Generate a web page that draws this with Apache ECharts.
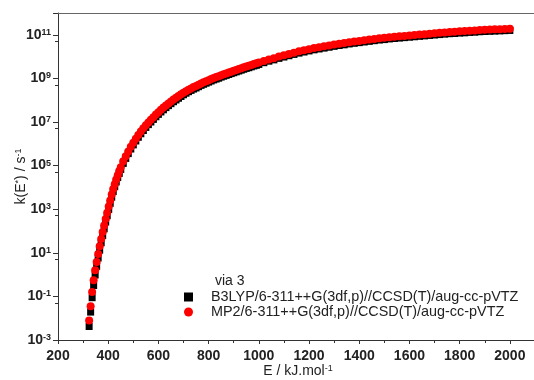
<!DOCTYPE html>
<html>
<head>
<meta charset="utf-8">
<script src="https://cdn.jsdelivr.net/npm/echarts@6/dist/echarts.min.js"></script>
<style>
  html, body { margin: 0; padding: 0; background: #fff; overflow: hidden; }
  #main { width: 534px; height: 380px; }
</style>
</head>
<body>
<div id="main"></div>
<script>
var chartDom = document.getElementById('main');
var myChart = echarts.init(chartDom);

// energies, kJ/mol
var energy = [
  324, 330, 336, 342, 348, 354, 360, 366, 372, 378, 384, 390, 396, 402, 408, 414, 420, 426, 432, 438, 444, 450,
  460, 470, 480, 490, 500, 510, 520, 530, 540, 550, 560, 570, 580, 590, 600,
  610, 620, 630, 640, 650, 660, 670, 680, 690, 700, 710, 720, 730, 740, 750,
  760, 770, 780, 790, 800, 810, 820, 830, 840, 850, 860, 870, 880, 890, 900,
  910, 920, 930, 940, 950, 960, 970, 980, 990, 1000,
  1020, 1040, 1060, 1080, 1100, 1120, 1140, 1160, 1180, 1200,
  1220, 1240, 1260, 1280, 1300, 1320, 1340, 1360, 1380, 1400,
  1420, 1440, 1460, 1480, 1500, 1520, 1540, 1560, 1580, 1600,
  1620, 1640, 1660, 1680, 1700, 1720, 1740, 1760, 1780, 1800,
  1820, 1840, 1860, 1880, 1900, 1920, 1940, 1960, 1980, 2000
];

// log10 k(E)
var logK_B3LYP = [
  -2.38, -1.72, -1.06, -0.50, -0.02, 0.38, 0.76, 1.12, 1.46, 1.79, 2.10, 2.41, 2.70, 2.99, 3.27, 3.55, 3.81, 4.03, 4.25, 4.45, 4.64, 4.82,
  5.10, 5.33, 5.55, 5.76, 5.95, 6.13, 6.30, 6.46, 6.61, 6.75, 6.88, 7.00, 7.12, 7.24, 7.35,
  7.46, 7.56, 7.66, 7.75, 7.84, 7.93, 8.01, 8.09, 8.17, 8.25, 8.32, 8.39, 8.45, 8.51, 8.56,
  8.62, 8.68, 8.73, 8.78, 8.83, 8.88, 8.93, 8.97, 9.01, 9.06, 9.10, 9.14, 9.18, 9.22, 9.26,
  9.30, 9.34, 9.38, 9.42, 9.46, 9.49, 9.53, 9.57, 9.60, 9.64,
  9.72, 9.79, 9.85, 9.92, 9.98, 10.04, 10.10, 10.16, 10.21, 10.26,
  10.31, 10.35, 10.39, 10.43, 10.47, 10.51, 10.54, 10.58, 10.61, 10.64,
  10.67, 10.70, 10.73, 10.76, 10.78, 10.81, 10.83, 10.85, 10.87, 10.89,
  10.91, 10.93, 10.95, 10.97, 10.99, 11.01, 11.03, 11.05, 11.06, 11.08,
  11.09, 11.11, 11.12, 11.14, 11.15, 11.16, 11.17, 11.18, 11.19, 11.20
];

var logK_MP2 = [
  -2.10, -1.45, -0.80, -0.26, 0.20, 0.58, 0.95, 1.30, 1.63, 1.95, 2.25, 2.55, 2.84, 3.12, 3.40, 3.67, 3.93, 4.15, 4.36, 4.56, 4.75, 4.93,
  5.20, 5.43, 5.65, 5.86, 6.05, 6.23, 6.40, 6.56, 6.71, 6.85, 6.98, 7.10, 7.22, 7.34, 7.45,
  7.56, 7.66, 7.76, 7.85, 7.94, 8.03, 8.11, 8.19, 8.27, 8.34, 8.41, 8.48, 8.54, 8.60, 8.65,
  8.71, 8.77, 8.82, 8.87, 8.92, 8.97, 9.02, 9.06, 9.10, 9.15, 9.19, 9.23, 9.27, 9.31, 9.35,
  9.39, 9.43, 9.47, 9.51, 9.55, 9.58, 9.62, 9.66, 9.69, 9.73,
  9.80, 9.87, 9.93, 10.00, 10.06, 10.12, 10.18, 10.24, 10.29, 10.34,
  10.39, 10.43, 10.47, 10.51, 10.55, 10.59, 10.62, 10.66, 10.69, 10.72,
  10.75, 10.78, 10.81, 10.84, 10.86, 10.89, 10.91, 10.93, 10.95, 10.97,
  10.99, 11.01, 11.03, 11.05, 11.07, 11.09, 11.11, 11.13, 11.14, 11.16,
  11.17, 11.19, 11.20, 11.22, 11.23, 11.24, 11.25, 11.26, 11.27, 11.28
];

var seriesNames = [
  'B3LYP/6-311++G(3df,p)//CCSD(T)/aug-cc-pVTZ',
  'MP2/6-311++G(3df,p)//CCSD(T)/aug-cc-pVTZ'
];

function toPoints(logs) {
  return energy.map(function (e, i) { return [e, Math.pow(10, logs[i])]; });
}

var font = 'Liberation Sans, Arial, sans-serif';
var supRich = {
  n: { fontSize: 14, color: '#222', fontFamily: font },
  s: { fontSize: 9, color: '#222', fontFamily: font, verticalAlign: 'top', lineHeight: 14 }
};

var option = {
  animation: false,
  backgroundColor: '#fff',
  textStyle: { fontFamily: font },
  title: {
    text: 'via 3',
    left: 210,
    top: 269,
    textStyle: { fontSize: 14, fontWeight: 'normal', color: '#222', fontFamily: font }
  },
  legend: {
    orient: 'vertical',
    left: 184,
    top: 290,
    padding: 0,
    itemWidth: 9,
    itemHeight: 9,
    itemGap: 1,
    textStyle: { fontSize: 14.4, lineHeight: 14, color: '#222', fontFamily: font, padding: [0, 0, 0, 13] },
    data: seriesNames
  },
  grid: {
    left: 58,
    top: 13,
    width: 487,
    bottom: 40,
    outerBoundsMode: 'none',
    containLabel: false
  },
  xAxis: [
    {
      type: 'value',
      min: 200,
      max: 2140,
      interval: 200,
      name: '{n|E / kJ.mol}{s|-1}',
      nameLocation: 'start',
      nameGap: -240,
      nameMoveOverlap: false,
      nameTextStyle: { rich: supRich, align: 'center', verticalAlign: 'top', padding: [24, 0, 0, 0] },
      axisLine: { onZero: false, lineStyle: { color: '#333', width: 1 } },
      axisTick: { length: 4, lineStyle: { color: '#333' } },
      minorTick: { show: true, splitNumber: 2, length: 3, lineStyle: { color: '#333' } },
      splitLine: { show: false },
      axisLabel: {
        showMaxLabel: false,
        margin: 9,
        fontSize: 14,
        fontWeight: 'bold',
        color: '#222',
        fontFamily: font,
        formatter: function (v) { return String(v); }
      }
    },
    {
      type: 'value',
      position: 'top',
      min: 200,
      max: 2140,
      axisLine: { show: true, onZero: false, lineStyle: { color: '#666', width: 1.2 } },
      axisTick: { show: false },
      axisLabel: { show: false },
      splitLine: { show: false }
    }
  ],
  yAxis: {
    type: 'log',
    logBase: 10,
    min: 1e-3,
    max: 1e12,
    interval: 2,
    name: '{n|k(E}{s|*}{n|) / s}{s|-1}',
    nameLocation: 'middle',
    nameGap: 30,
    nameMoveOverlap: false,
    nameTextStyle: { rich: supRich },
    axisLine: { show: true, onZero: false, lineStyle: { color: '#333', width: 1 } },
    axisTick: { length: 5, lineStyle: { color: '#333' } },
    minorTick: { show: true, splitNumber: 2, length: 3, lineStyle: { color: '#333' } },
    splitLine: { show: false },
    axisLabel: {
      margin: 7,
      showMaxLabel: false,
      formatter: function (v) {
        var p = Math.round(Math.log(v) / Math.LN10);
        return '{b|10}{s|' + p + '}';
      },
      rich: {
        b: { fontSize: 14, fontWeight: 'bold', color: '#222', fontFamily: font },
        s: { fontSize: 9, fontWeight: 'bold', color: '#222', fontFamily: font, verticalAlign: 'top', lineHeight: 14 }
      }
    }
  },
  series: [
    {
      name: seriesNames[0],
      type: 'scatter',
      symbol: 'rect',
      symbolSize: 7,
      itemStyle: { color: '#000', opacity: 1 },
      data: toPoints(logK_B3LYP)
    },
    {
      name: seriesNames[1],
      type: 'scatter',
      symbol: 'circle',
      symbolSize: 8,
      itemStyle: { color: '#ff0000', opacity: 1 },
      data: toPoints(logK_MP2)
    }
  ]
};

myChart.setOption(option);
window.addEventListener('resize', myChart.resize);
</script>
</body>
</html>
